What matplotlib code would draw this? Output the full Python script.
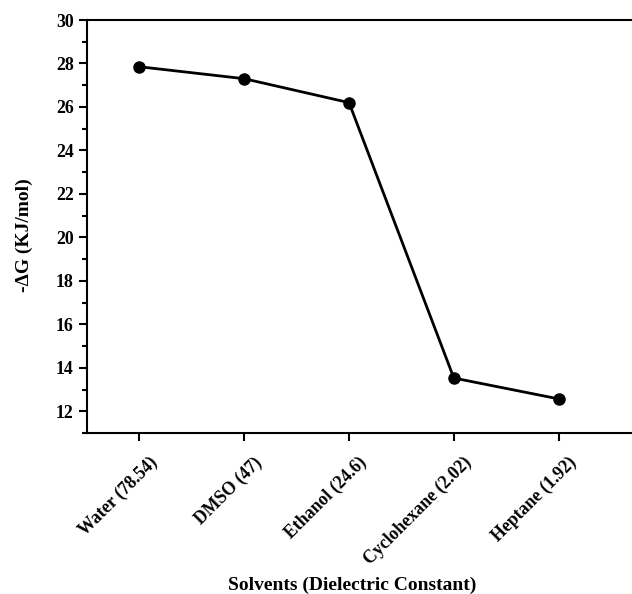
import matplotlib
matplotlib.use("Agg")
import matplotlib.pyplot as plt
import matplotlib.transforms as mtransforms
from matplotlib.ticker import MultipleLocator

solvents = ["Water (78.54)", "DMSO (47)", "Ethanol (24.6)", "Cyclohexane (2.02)", "Heptane (1.92)"]
delta_g = [27.85, 27.3, 26.2, 13.53, 12.57]

plt.rcParams.update({'font.family': 'Liberation Serif', 'font.weight': 'bold'})

fig = plt.figure(figsize=(6.32, 5.94), dpi=100)
ax = fig.add_axes([0.1377, 0.271, 0.8623, 0.6953])

x = list(range(len(solvents)))
ax.plot(x, delta_g, color='black', linewidth=2.0, marker='o', markersize=8)

ax.set_xlim(-0.5, 4.7)
ax.set_ylim(11, 30)
ax.set_xticks(x)
ax.set_xticklabels([])
# rotated category labels, placed by hand so they sit like the original
trans = mtransforms.blended_transform_factory(ax.transData, ax.transAxes)
trans = trans + mtransforms.ScaledTranslation(9 / 100, -21 / 100, fig.dpi_scale_trans)
for xi, name in zip(x, solvents):
    ax.text(xi, 0, name, transform=trans, rotation=45, ha='right', va='top',
            rotation_mode='anchor', fontsize=12.8, fontweight='bold')

ax.yaxis.set_major_locator(MultipleLocator(2))
ax.yaxis.set_minor_locator(MultipleLocator(1))
for lab in ax.get_yticklabels():
    lab.set_fontsize(12.8)
    lab.set_fontweight('bold')

ax.tick_params(axis='both', which='major', direction='out', length=6, width=1.5)
ax.tick_params(axis='y', which='minor', direction='out', length=3.5, width=1.5)
ax.tick_params(axis='x', which='both', top=False)

for s in ['left', 'bottom', 'top']:
    ax.spines[s].set_linewidth(1.5)
ax.spines['right'].set_visible(False)

fig.text(352 / 632, 1 - 585 / 594, 'Solvents (Dielectric Constant)', fontsize=14,
         fontweight='bold', ha='center', va='center')
ax.set_ylabel('-ΔG (KJ/mol)', fontsize=14, fontweight='bold')
ax.yaxis.set_label_coords(-0.1, 0.48)

plt.savefig("out.png", dpi=100)
